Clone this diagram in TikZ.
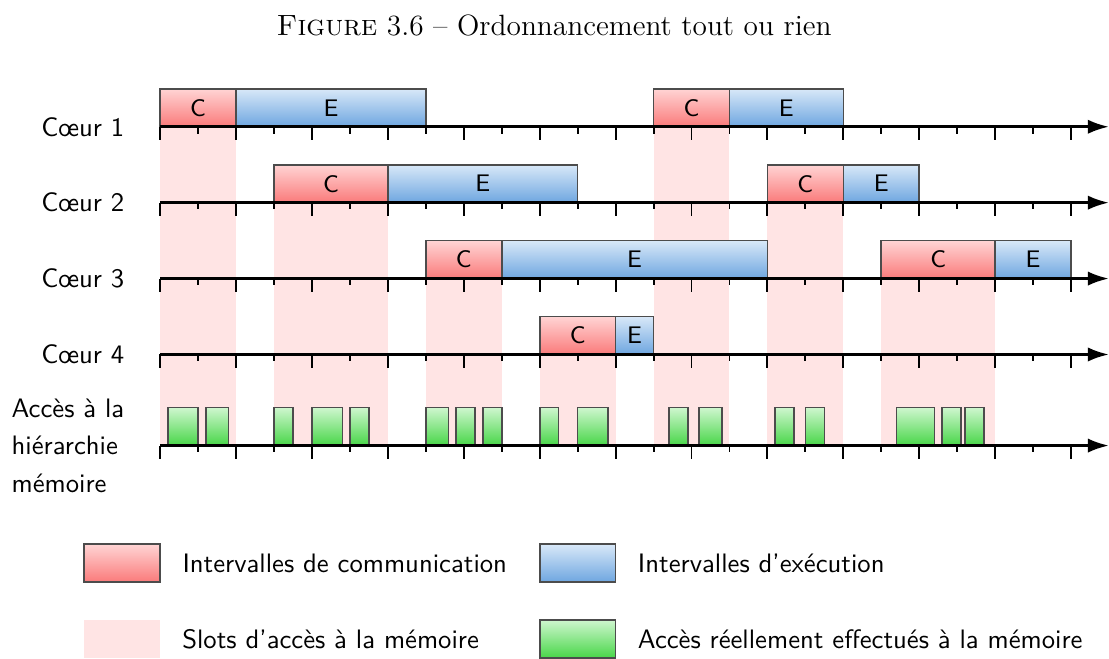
\documentclass[tikz,border=0pt]{standalone}
\usepackage{fontspec}
\usetikzlibrary{arrows.meta,positioning}

\definecolor{commHaut}{RGB}{255,212,212}
\definecolor{commBas}{RGB}{250,122,122}
\definecolor{execHaut}{RGB}{216,232,248}
\definecolor{execBas}{RGB}{110,166,224}
\definecolor{accHaut}{RGB}{206,246,206}
\definecolor{accBas}{RGB}{72,214,72}
\definecolor{slotRose}{RGB}{255,228,228}

\begin{document}
\begin{tikzpicture}[
    x=0.5cm, y=0.5cm,
    font=\sffamily,
    comm/.style={draw=black!70, line width=0.6pt, top color=commHaut, bottom color=commBas,
                 minimum height=0.5cm, inner sep=0pt, font=\small\sffamily},
    exec/.style={draw=black!70, line width=0.6pt, top color=execHaut, bottom color=execBas,
                 minimum height=0.5cm, inner sep=0pt, font=\small\sffamily},
    acc/.style={draw=black!70, line width=0.6pt, top color=accHaut, bottom color=accBas},
    slot/.style={fill=slotRose, draw=none},
    axe/.style={line width=1.1pt, -{Latex[length=2.8mm, width=1.9mm]}},
    graduL/.style={line width=0.7pt},
    graduC/.style={line width=0.7pt},
    coeur/.style={anchor=east, inner sep=3pt},
    legtxt/.style={anchor=west}
]
    \useasboundingbox (-4.22,-14) rectangle (25,3.34);

    \node[font=\fontsize{11}{13}\selectfont\rmfamily] (titre) at (10.38,2.68)
        {\textsc{Figure} 3.6 -- Ordonnancement tout ou rien};

    % slots d'acces a la memoire
    \fill[slot] (0,1) rectangle (2,-8.4);
    \fill[slot] (3,-1) rectangle (6,-8.4);
    \fill[slot] (7,-3) rectangle (9,-8.4);
    \fill[slot] (10,-5) rectangle (12,-8.4);
    \fill[slot] (13,1) rectangle (15,-8.4);
    \fill[slot] (16,-1) rectangle (18,-8.4);
    \fill[slot] (19,-3) rectangle (22,-8.4);

    % coeur 1
    \node[comm, minimum width=1cm]   (c1a) at (1,0.5) {C};
    \node[exec, minimum width=2.5cm] (e1a) at (4.5,0.5) {E};
    \node[comm, minimum width=1cm]   (c1b) at (14,0.5) {C};
    \node[exec, minimum width=1.5cm] (e1b) at (16.5,0.5) {E};
    % coeur 2
    \node[comm, minimum width=1.5cm] (c2a) at (4.5,-1.5) {C};
    \node[exec, minimum width=2.5cm] (e2a) at (8.5,-1.5) {E};
    \node[comm, minimum width=1cm]   (c2b) at (17,-1.5) {C};
    \node[exec, minimum width=1cm]   (e2b) at (19,-1.5) {E};
    % coeur 3
    \node[comm, minimum width=1cm]   (c3a) at (8,-3.5) {C};
    \node[exec, minimum width=3.5cm] (e3a) at (12.5,-3.5) {E};
    \node[comm, minimum width=1.5cm] (c3b) at (20.5,-3.5) {C};
    \node[exec, minimum width=1cm]   (e3b) at (23,-3.5) {E};
    % coeur 4
    \node[comm, minimum width=1cm]   (c4a) at (11,-5.5) {C};
    \node[exec, minimum width=0.5cm] (e4a) at (12.5,-5.5) {E};

    % acces effectifs
    \draw[acc] (0.2,-8.4) rectangle (1.0,-7.4);
    \draw[acc] (1.2,-8.4) rectangle (1.8,-7.4);
    \draw[acc] (3.0,-8.4) rectangle (3.5,-7.4);
    \draw[acc] (4.0,-8.4) rectangle (4.8,-7.4);
    \draw[acc] (5.0,-8.4) rectangle (5.5,-7.4);
    \draw[acc] (7.0,-8.4) rectangle (7.6,-7.4);
    \draw[acc] (7.8,-8.4) rectangle (8.3,-7.4);
    \draw[acc] (8.5,-8.4) rectangle (9.0,-7.4);
    \draw[acc] (10.0,-8.4) rectangle (10.5,-7.4);
    \draw[acc] (11.0,-8.4) rectangle (11.8,-7.4);
    \draw[acc] (13.4,-8.4) rectangle (13.9,-7.4);
    \draw[acc] (14.2,-8.4) rectangle (14.8,-7.4);
    \draw[acc] (16.2,-8.4) rectangle (16.7,-7.4);
    \draw[acc] (17.0,-8.4) rectangle (17.5,-7.4);
    \draw[acc] (19.4,-8.4) rectangle (20.4,-7.4);
    \draw[acc] (20.6,-8.4) rectangle (21.1,-7.4);
    \draw[acc] (21.2,-8.4) rectangle (21.7,-7.4);

    % axes et graduations
    \foreach \y in {0,-2,-4,-6,-8.4} {
        \draw[axe] (0,\y) -- (25,\y);
        \foreach \x in {0,2,...,24} \draw[graduL] (\x,\y) -- ++(0,-0.35);
        \foreach \x in {1,3,...,23} \draw[graduC] (\x,\y) -- ++(0,-0.18);
    }

    \node[coeur] (l1) at (-0.72,0) {Cœur 1};
    \node[coeur] (l2) at (-0.72,-2) {Cœur 2};
    \node[coeur] (l3) at (-0.72,-4) {Cœur 3};
    \node[coeur] (l4) at (-0.72,-6) {Cœur 4};
    \node[anchor=west, align=left] (lmem) at (-4.16,-8.4)
        {Accès à la\\[2pt]hiérarchie\\[2pt]mémoire};

    % legende
    \node[comm, minimum width=1cm] (legC) at (-1,-11.5) {};
    \node[legtxt, right=1.6mm of legC] (txtC) {Intervalles de communication};
    \node[exec, minimum width=1cm] (legE) at (11,-11.5) {};
    \node[legtxt, right=1.6mm of legE] (txtE) {Intervalles d'exécution};
    \node[slot, minimum width=1cm, minimum height=0.5cm, inner sep=0pt] (legS) at (-1,-13.5) {};
    \node[legtxt, right=1.6mm of legS] (txtS) {Slots d'accès à la mémoire};
    \node[acc, minimum width=1cm, minimum height=0.5cm, inner sep=0pt] (legA) at (11,-13.5) {};
    \node[legtxt, right=1.6mm of legA] (txtA) {Accès réellement effectués à la mémoire};
\end{tikzpicture}
\end{document}
